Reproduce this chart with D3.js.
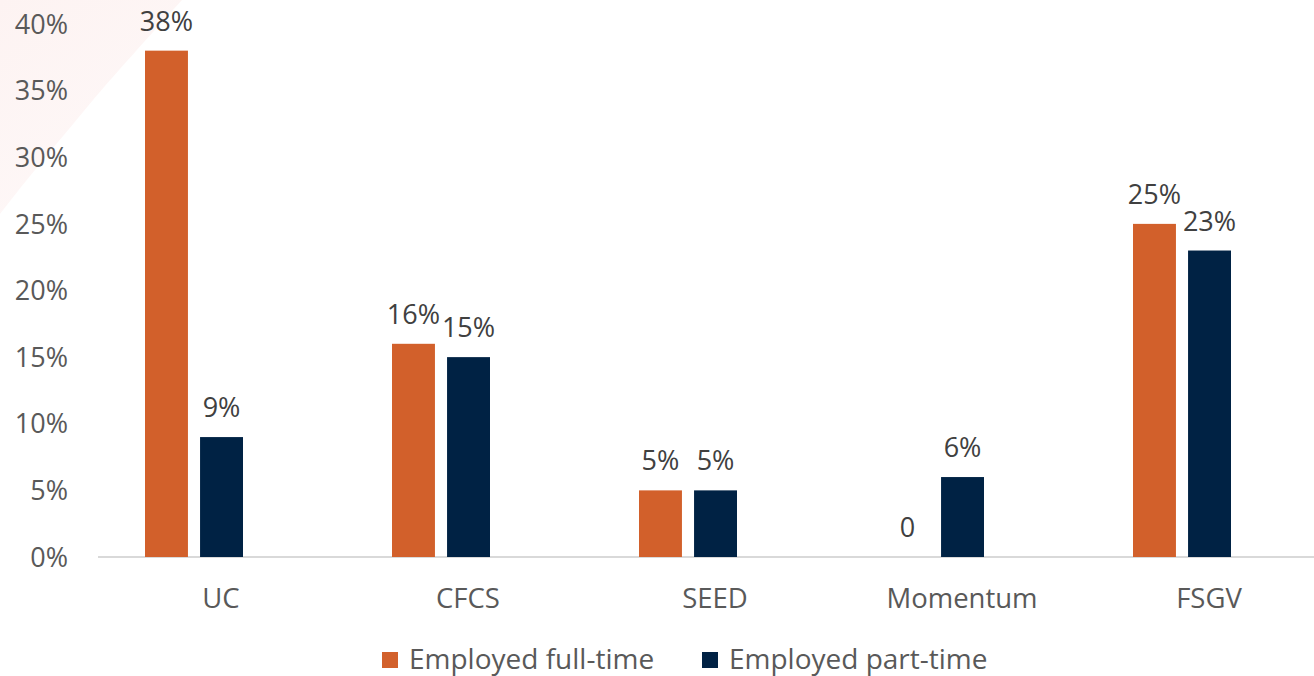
<!DOCTYPE html>
<html>
<head>
<meta charset="utf-8">
<script src="https://cdn.jsdelivr.net/npm/d3@7"></script>
<style>
  html, body { margin: 0; padding: 0; background: #fff; }
  svg { display: block; }
  text { font-family: "Open Sans", "Noto Sans", sans-serif; }
</style>
</head>
<body>
<svg id="chart" width="1314" height="676"></svg>
<script>
const categories = ["UC", "CFCS", "SEED", "Momentum", "FSGV"];
const seriesNames = ["Employed full-time", "Employed part-time"];
const fullTime = [38, 16, 5, 0, 25];
const partTime = [9, 15, 5, 6, 23];
const yTicks = [0, 5, 10, 15, 20, 25, 30, 35, 40];
const colors = ["#D2602B", "#002244"];

const seriesValues = [fullTime, partTime];
const svg = d3.select("#chart");

// faint decorative background shape (top-left)
const defs = svg.append("defs");
const grad = defs.append("linearGradient").attr("id", "bgGrad")
  .attr("x1", "0").attr("y1", "0").attr("x2", "0.6").attr("y2", "1");
grad.append("stop").attr("offset", "0").attr("stop-color", "#fdf3f2");
grad.append("stop").attr("offset", "1").attr("stop-color", "#fef8f8");
svg.append("path")
  .attr("d", "M0,0 L182,0 C150,35 110,80 93,100 C60,140 30,175 0,214 Z")
  .attr("fill", "url(#bgGrad)");

const y = d3.scaleLinear().domain([0, 40]).range([557, 24]);
const x0 = d3.scaleBand().domain(categories).range([97.5, 1332.5]).padding(0);
const x1 = d3.scaleBand().domain(seriesNames).range([47.5, 145.5]).paddingInner(0.22);

// y tick labels
svg.append("g").selectAll("text").data(yTicks).join("text")
  .attr("x", 68)
  .attr("y", d => y(d))
  .attr("dy", "0.36em")
  .attr("text-anchor", "end")
  .attr("font-size", 27)
  .attr("fill", "#595959")
  .text(d => d + "%");

// baseline
svg.append("line")
  .attr("x1", 98).attr("x2", 1314)
  .attr("y1", y(0)).attr("y2", y(0))
  .attr("stroke", "#d9d9d9").attr("stroke-width", 2);

// bars
const groups = svg.append("g").selectAll("g").data(categories).join("g")
  .attr("transform", d => `translate(${x0(d)},0)`);

groups.each(function(cat, ci) {
  const g = d3.select(this);
  seriesNames.forEach((s, si) => {
    const v = seriesValues[si][ci];
    if (v > 0) {
      g.append("rect")
        .attr("x", x1(s))
        .attr("y", y(v))
        .attr("width", x1.bandwidth())
        .attr("height", y(0) - y(v))
        .attr("fill", colors[si]);
    }
    g.append("text")
      .attr("x", x1(s) + x1.bandwidth() / 2)
      .attr("y", y(v) - 20)
      .attr("text-anchor", "middle")
      .attr("font-size", 27)
      .attr("fill", "#404040")
      .text(v === 0 ? "0" : v + "%");
  });
});

// category labels
svg.append("g").selectAll("text").data(categories).join("text")
  .attr("x", d => x0(d) + x0.bandwidth() / 2)
  .attr("y", 608)
  .attr("text-anchor", "middle")
  .attr("font-size", 27.5)
  .attr("fill", "#595959")
  .text(d => d);

// legend
const legendPos = [382, 702];
const legend = svg.append("g").selectAll("g").data(seriesNames).join("g")
  .attr("transform", (d, i) => `translate(${legendPos[i]},652)`);
legend.append("rect").attr("width", 16).attr("height", 16)
  .attr("fill", (d, i) => colors[i]);
legend.append("text")
  .attr("x", 27).attr("y", 17)
  .attr("font-size", 28)
  .attr("fill", "#595959")
  .text(d => d);
</script>
</body>
</html>
